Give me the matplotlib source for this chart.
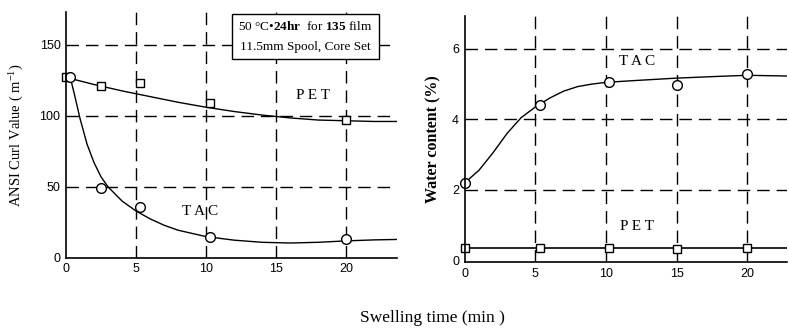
import matplotlib.pyplot as plt

plt.rcParams['mathtext.fontset'] = 'custom'
plt.rcParams['mathtext.rm'] = 'Liberation Serif'
plt.rcParams['mathtext.it'] = 'Liberation Serif:italic'
plt.rcParams['mathtext.bf'] = 'Liberation Serif:bold'

# left panel: curl value vs swelling time
curl_pet_t = [0, 2.5, 5.3, 10.3, 20]
curl_pet = [127, 121, 123, 109, 97]
curl_tac_t = [0.3, 2.5, 5.3, 10.3, 20]
curl_tac = [127, 49, 36, 15, 13]

# fitted curves
curl_pet_fit_t = [0, 2, 4, 6, 8, 10, 12, 14, 16, 18, 20, 22, 23.6]
curl_pet_fit = [127, 122, 117.5, 113.5, 109.5, 106, 103, 100.5, 98.5, 97, 96.5, 96, 96]
curl_tac_fit_t = [0.3, 0.6, 1.0, 1.5, 2.0, 2.5, 3, 4, 5, 6, 7, 8, 10, 12, 14, 16, 18, 20, 22, 23.6]
curl_tac_fit = [127, 115, 98, 80, 67, 57, 50, 40, 33, 27.5, 23, 19.5, 15, 12.5, 11, 10.5, 11, 12, 12.7, 13]

# right panel: water content vs swelling time
wat_t = [0, 5.3, 10.2, 15, 20]
wat_tac = [2.2, 4.4, 5.05, 4.98, 5.3]
wat_pet = [0.35, 0.35, 0.36, 0.33, 0.35]
wat_tac_fit_t = [0, 1, 2, 3, 4, 5, 6, 7, 8, 9, 10, 12, 15, 18, 20, 22.8]
wat_tac_fit = [2.2, 2.55, 3.05, 3.6, 4.05, 4.35, 4.6, 4.8, 4.93, 5.0, 5.05, 5.1, 5.17, 5.22, 5.25, 5.23]
wat_pet_fit_t = [0, 22.8]
wat_pet_fit = [0.35, 0.35]

serif = 'Liberation Serif'
sans = 'Liberation Sans'
dash = (0, (9, 5))

fig = plt.figure(figsize=(7.89, 3.29), dpi=100)
ax1 = fig.add_axes([0.0837, 0.216, 0.419, 0.7475])
ax2 = fig.add_axes([0.589, 0.2036, 0.408, 0.7474])

for ax in (ax1, ax2):
    for s in ('top', 'right'):
        ax.spines[s].set_visible(False)
    for s in ('left', 'bottom'):
        ax.spines[s].set_linewidth(1.2)
    ax.tick_params(length=0, pad=4, labelsize=9)
    ax.set_xticks([0, 5, 10, 15, 20])
    for xv in [5, 10, 15, 20]:
        ax.axvline(xv, color='black', lw=1, linestyle=dash, zorder=0)

# left panel
ax1.set_xlim(0, 23.6)
ax1.set_ylim(0, 173)
ax1.set_yticks([0, 50, 100, 150])
for yv in [50, 100, 150]:
    ax1.axhline(yv, color='black', lw=1, linestyle=dash, zorder=0)
ax1.plot(curl_pet_fit_t, curl_pet_fit, color='black', lw=1)
ax1.plot(curl_tac_fit_t, curl_tac_fit, color='black', lw=1)
ax1.plot(curl_pet_t, curl_pet, 's', ms=6, mfc='white', mec='black', mew=1, clip_on=False)
ax1.plot(curl_tac_t, curl_tac, 'o', ms=7, mfc='white', mec='black', mew=1, clip_on=False)
ax1.text(17.6, 114, 'P E T', family=serif, fontsize=11, ha='center', va='center')
ax1.text(9.6, 33, 'T A C', family=serif, fontsize=11, ha='center', va='center')
ax1.text(17.1, 155.5, '50 \u00b0C\u2022$\\mathbf{24hr}$  for $\\mathbf{135}$ film\n11.5mm Spool, Core Set',
         family=serif, fontsize=9.5, ha='center', va='center', linespacing=1.9,
         bbox=dict(boxstyle='square,pad=0.45', fc='white', ec='black', lw=1), zorder=5)
ax1.set_ylabel('ANSI Curl Value ( m$^{-1}$)', family=serif, fontsize=10.5, labelpad=10)

# right panel
ax2.set_xlim(0, 22.8)
ax2.set_ylim(-0.05, 6.93)
ax2.set_yticks([0, 2, 4, 6])
for yv in [2, 4, 6]:
    ax2.axhline(yv, color='black', lw=1, linestyle=dash, zorder=0)
ax2.plot(wat_tac_fit_t, wat_tac_fit, color='black', lw=1)
ax2.plot(wat_pet_fit_t, wat_pet_fit, color='black', lw=1.2)
ax2.plot(wat_t, wat_tac, 'o', ms=7, mfc='white', mec='black', mew=1, clip_on=False)
ax2.plot(wat_t, wat_pet, 's', ms=6, mfc='white', mec='black', mew=1, clip_on=False)
ax2.text(12.2, 5.63, 'T A C', family=serif, fontsize=11, ha='center', va='center')
ax2.text(12.2, 0.96, 'P E T', family=serif, fontsize=11, ha='center', va='center')
ax2.set_ylabel('Water content (%)', family=serif, fontweight='bold', fontsize=11.5, labelpad=8)

for ax in (ax1, ax2):
    for lab in ax.get_xticklabels() + ax.get_yticklabels():
        lab.set_family(sans)

fig.text(0.548, 0.033, 'Swelling time (min )', family=serif, fontsize=12.5, ha='center', va='center')

fig.savefig('out.png', dpi=100)
